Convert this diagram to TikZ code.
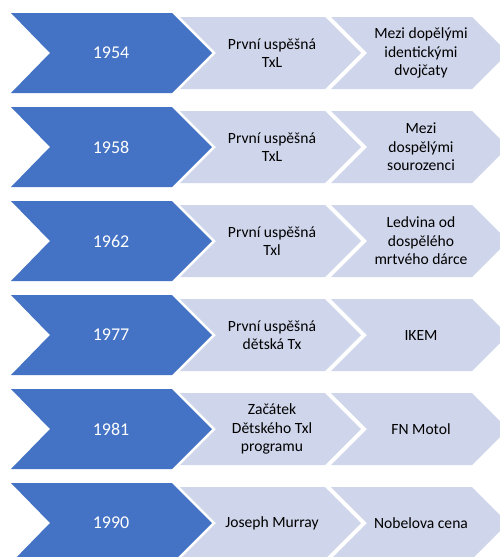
\documentclass[tikz,border=0pt]{standalone}
\usepackage{fontspec}
\setmainfont{Carlito}
\definecolor{chevblue}{HTML}{4472C4}
\definecolor{chevlight}{HTML}{CFD5EA}
\begin{document}
\begin{tikzpicture}[x=1pt,y=-1pt,
  yeartext/.style={text=white,font=\fontsize{18}{21}\selectfont,align=center},
  lighttext/.style={text=black,font=\fontsize{15.6}{18.4}\selectfont,align=center},
  bluefill/.style={fill=chevblue},
  lightfill/.style={fill=chevlight}]
\fill[white] (0,0) rectangle (500,557);
\useasboundingbox (0,0) rectangle (500,557);
\newcommand{\chevrow}[5]{%
  \fill[bluefill] (11,#1-40) -- (172,#1-40) -- (212,#1) -- (172,#1+40) -- (11,#1+40) -- (50,#1) -- cycle;
  \fill[lightfill] (180,#1-36) -- (325,#1-36) -- (361,#1) -- (325,#1+36) -- (180,#1+36) -- (216,#1) -- cycle;
  \fill[lightfill] (331,#1-36) -- (472,#1-36) -- (508,#1) -- (472,#1+36) -- (331,#1+36) -- (367,#1) -- cycle;
  \node[yeartext] (y#5) at (111,#1) {#2};
  \node[lighttext] (a#5) at (272,#1) {#3};
  \node[lighttext] (b#5) at (421,#1) {#4};
}
\chevrow{53}{1954}{První uspěšná\\TxL}{Mezi dopělými\\identickými\\dvojčaty}{1}
\chevrow{147}{1958}{První uspěšná\\TxL}{Mezi\\dospělými\\sourozenci}{2}
\chevrow{241}{1962}{První uspěšná\\Txl}{Ledvina od\\dospělého\\mrtvého dárce}{3}
\chevrow{335}{1977}{První uspěšná\\dětská Tx}{IKEM}{4}
\chevrow{429}{1981}{Začátek\\Dětského Txl\\programu}{FN Motol}{5}
\chevrow{523}{1990}{Joseph Murray}{Nobelova cena}{6}
\end{tikzpicture}
\end{document}
